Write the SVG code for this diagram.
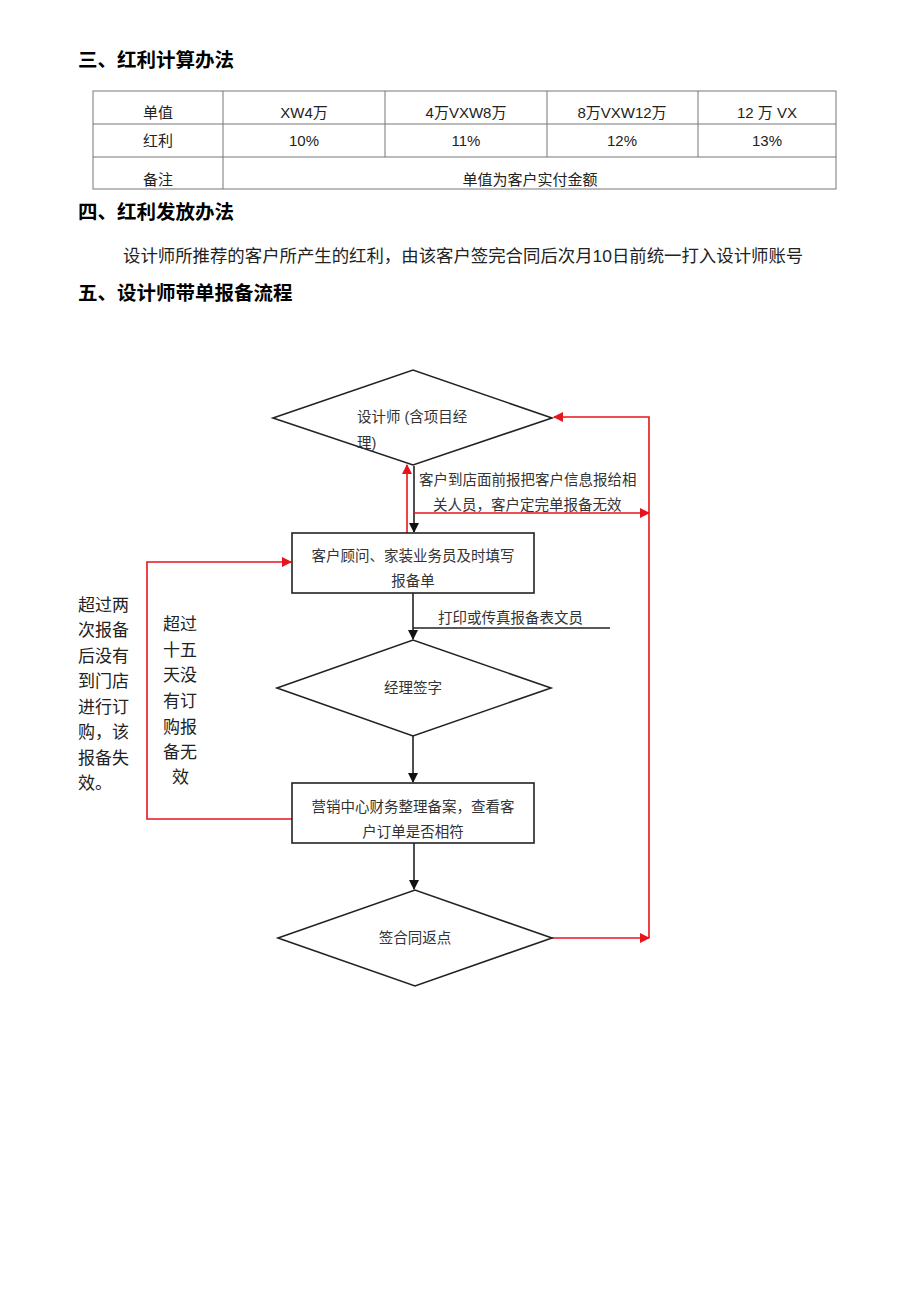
<svg xmlns="http://www.w3.org/2000/svg" width="920" height="1301" viewBox="0 0 920 1301">
<style>
text{font-family:"Liberation Sans","Noto Sans CJK SC",sans-serif;fill:#222}
.h{font-size:19.5px;font-weight:bold;fill:#000}
.p{font-size:17.4px}
.t{font-size:15px;text-anchor:middle}
.f{font-size:14.5px;fill:#333}
.fc{font-size:14.5px;fill:#333;text-anchor:middle}
.side{font-size:17px;fill:#222}
.tb{fill:none;stroke:#777;stroke-width:1}
.shape{fill:#fff;stroke:#222;stroke-width:1.6}
.blk{fill:none;stroke:#222;stroke-width:1.6}
.red{fill:none;stroke:#e8141b;stroke-width:1.6}
</style>
<defs>
<marker id="ab" markerWidth="10" markerHeight="10" refX="9" refY="5" orient="auto" markerUnits="userSpaceOnUse"><path d="M0,0 L10,5 L0,10 z" fill="#111"/></marker>
<marker id="ar" markerWidth="10" markerHeight="10" refX="9" refY="5" orient="auto" markerUnits="userSpaceOnUse"><path d="M0,0 L10,5 L0,10 z" fill="#e8141b"/></marker>
</defs>
<rect width="920" height="1301" fill="#fff"/>
<text class="h" x="78" y="67">三、红利计算办法</text>
<g id="table">
<rect class="tb" x="93" y="91" width="743" height="98"/>
<line class="tb" x1="93" y1="124" x2="836" y2="124"/>
<line class="tb" x1="93" y1="157" x2="836" y2="157"/>
<line class="tb" x1="223" y1="91" x2="223" y2="189"/>
<line class="tb" x1="385" y1="91" x2="385" y2="157"/>
<line class="tb" x1="547" y1="91" x2="547" y2="157"/>
<line class="tb" x1="698" y1="91" x2="698" y2="157"/>
<text class="t" x="158" y="118">单值</text>
<text class="t" x="304" y="118">XW4万</text>
<text class="t" x="466" y="118">4万VXW8万</text>
<text class="t" x="622" y="118">8万VXW12万</text>
<text class="t" x="767" y="118">12 万  VX</text>
<text class="t" x="158" y="146">红利</text>
<text class="t" x="304" y="146">10%</text>
<text class="t" x="466" y="146">11%</text>
<text class="t" x="622" y="146">12%</text>
<text class="t" x="767" y="146">13%</text>
<text class="t" x="158" y="185">备注</text>
<text class="t" x="530" y="185">单值为客户实付金额</text>
</g>
<text class="h" x="78" y="219">四、红利发放办法</text>
<text class="p" x="123" y="262">设计师所推荐的客户所产生的红利，由该客户签完合同后次月10日前统一打入设计师账号</text>
<text class="h" x="78" y="300">五、设计师带单报备流程</text>

<g id="connectors">
<line class="blk" x1="414" y1="466" x2="414" y2="532" marker-end="url(#ab)"/>
<line class="red" x1="407" y1="533" x2="407" y2="465" marker-end="url(#ar)"/>
<line class="red" x1="414" y1="513" x2="649" y2="513" marker-end="url(#ar)"/>
<line class="blk" x1="413" y1="593" x2="413" y2="639" marker-end="url(#ab)"/>
<line class="blk" x1="413" y1="628" x2="610" y2="628"/>
<line class="blk" x1="413" y1="736" x2="413" y2="782" marker-end="url(#ab)"/>
<line class="blk" x1="414" y1="843" x2="414" y2="889" marker-end="url(#ab)"/>
<line class="red" x1="552" y1="938" x2="649" y2="938" marker-end="url(#ar)"/>
<polyline class="red" points="649,938 649,417 554,417" marker-end="url(#ar)"/>
<polyline class="red" points="292,819 147,819 147,562 291,562" marker-end="url(#ar)"/>
</g>

<g id="n1">
<polygon class="shape" points="273,418 413,370 552,418 413,465"/>
<text class="f" x="357" y="422">设计师 (含项目经</text>
<text class="f" x="357" y="448">理)</text>
</g>
<g id="lbl1">
<text class="f" x="419" y="485">客户到店面前报把客户信息报给相</text>
<text class="f" x="433" y="510">关人员，客户定完单报备无效</text>
</g>
<g id="n2">
<rect class="shape" x="292" y="533" width="242" height="60"/>
<text class="fc" x="413" y="561">客户顾问、家装业务员及时填写</text>
<text class="fc" x="413" y="586">报备单</text>
</g>
<g id="lbl2">
<text class="f" x="438" y="623">打印或传真报备表文员</text>
</g>
<g id="n3">
<polygon class="shape" points="277,688 413,640 551,688 413,736"/>
<text class="fc" x="413" y="693">经理签字</text>
</g>
<g id="n4">
<rect class="shape" x="292" y="783" width="242" height="60"/>
<text class="fc" x="413" y="812">营销中心财务整理备案，查看客</text>
<text class="fc" x="413" y="837">户订单是否相符</text>
</g>
<g id="n5">
<polygon class="shape" points="278,938 415,890 552,938 415,986"/>
<text class="fc" x="415" y="943">签合同返点</text>
</g>
<g id="lbl3">
<text class="side" x="78" y="611">超过两</text>
<text class="side" x="78" y="636">次报备</text>
<text class="side" x="78" y="662">后没有</text>
<text class="side" x="78" y="687">到门店</text>
<text class="side" x="78" y="713">进行订</text>
<text class="side" x="78" y="738">购，该</text>
<text class="side" x="78" y="764">报备失</text>
<text class="side" x="78" y="789">效。</text>
</g>
<g id="lbl4">
<text class="side" x="163" y="630">超过</text>
<text class="side" x="163" y="656">十五</text>
<text class="side" x="163" y="681">天没</text>
<text class="side" x="163" y="707">有订</text>
<text class="side" x="163" y="733">购报</text>
<text class="side" x="163" y="758">备无</text>
<text class="side" x="172" y="783">效</text>
</g>
</svg>
